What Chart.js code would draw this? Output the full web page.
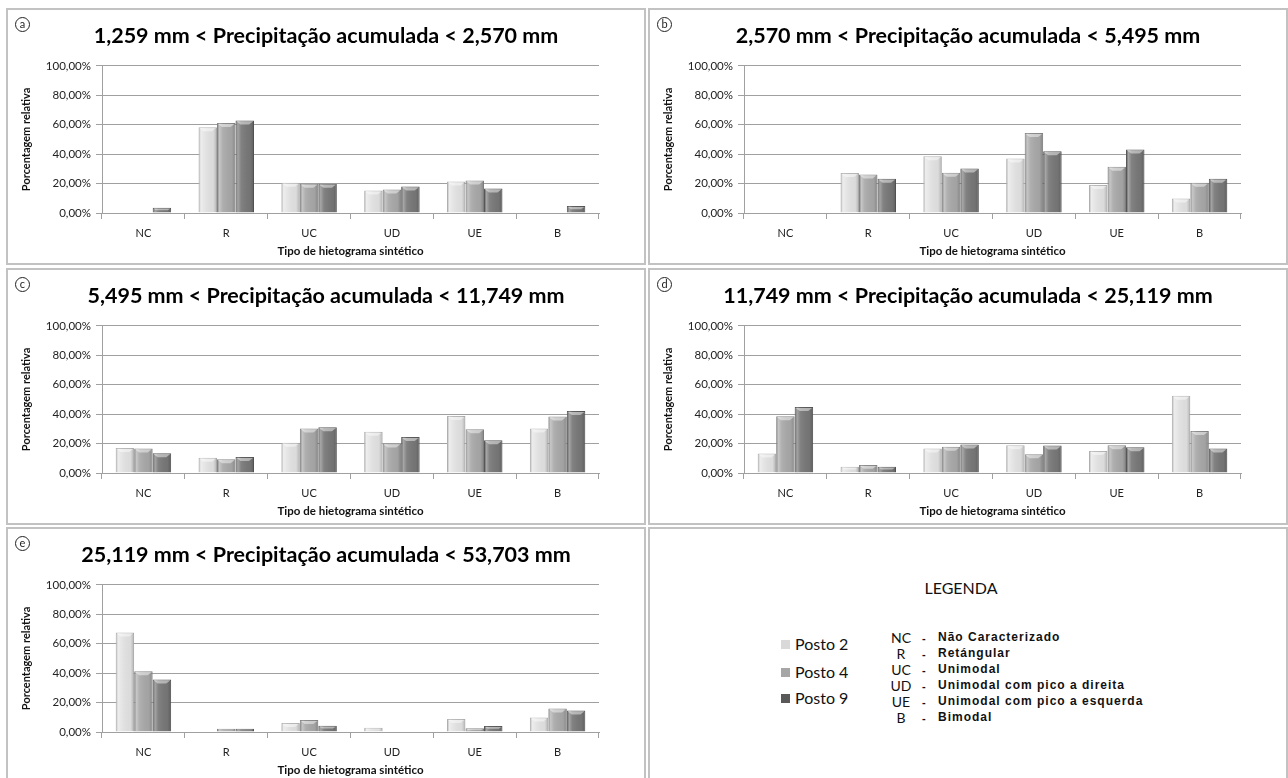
<!DOCTYPE html>
<html>
<head>
<meta charset="utf-8">
<script src="https://cdn.jsdelivr.net/npm/chart.js@4/dist/chart.umd.min.js"></script>
<style>
  body { margin: 0; background: #fff; width: 1288px; height: 778px; overflow: hidden; position: relative; font-family: Lato, sans-serif; }
  .panel { position: absolute; width: 636px; height: 253px; border: 2px solid #c2c2c2; background: #fff; }
  .panel canvas { position: absolute; left: 0; top: 0; }
  .tag { position: absolute; left: 7px; top: 7px; width: 13px; height: 13px; border: 1px solid #222; border-radius: 50%;
         font: 11px Lato, sans-serif; line-height: 12px; text-align: center; color: #222; z-index: 2; }
  .legend-title { position: absolute; left: 0; width: 622px; top: 49px; text-align: center; font: 16px Lato, sans-serif; color: #111; }
  .posto { position: absolute; left: 131px; font: 16px Lato, sans-serif; line-height: 20px; color: #111; }
  .posto i { display: inline-block; width: 9px; height: 9px; margin-right: 5px; vertical-align: 1px; }
  .code { position: absolute; left: 236px; width: 30px; text-align: center; font: 14px "Liberation Sans Narrow", Lato, sans-serif; line-height: 16px; color: #111; }
  .dash { position: absolute; left: 272px; font: bold 11px "Liberation Sans", sans-serif; line-height: 16px; color: #111; }
  .desc { position: absolute; left: 288px; font: bold 12px "Liberation Sans", sans-serif; line-height: 16px; letter-spacing: 1px; color: #111; white-space: nowrap; }
</style>
</head>
<body>
<script>
// categories and labels
const categories = ["NC", "R", "UC", "UD", "UE", "B"];
const seriesNames = ["Posto 2", "Posto 4", "Posto 9"];
const yTicks = [0, 20, 40, 60, 80, 100];
const codeNames = ["Não Caracterizado", "Retángular", "Unimodal", "Unimodal com pico a direita", "Unimodal com pico a esquerda", "Bimodal"];

// (a)
const titleA = "1,259 mm < Precipitação acumulada < 2,570 mm";
const posto2A = [0, 58.2, 20.5, 15.3, 21.4, 0];
const posto4A = [0, 61.2, 19.8, 16.0, 22.1, 0];
const posto9A = [3.5, 62.8, 19.8, 18.0, 16.7, 4.8];

// (b)
const titleB = "2,570 mm < Precipitação acumulada < 5,495 mm";
const posto2B = [0, 27.1, 38.6, 37.0, 19.0, 9.9];
const posto4B = [0, 26.2, 27.3, 54.4, 31.4, 20.5];
const posto9B = [0, 23.3, 30.2, 42.0, 43.1, 23.3];

// (c)
const titleC = "5,495 mm < Precipitação acumulada < 11,749 mm";
const posto2C = [17.0, 10.4, 20.6, 28.1, 38.8, 30.2];
const posto4C = [16.6, 9.3, 30.2, 20.0, 29.7, 38.3];
const posto9C = [13.4, 10.9, 31.1, 24.5, 22.2, 42.2];

// (d)
const titleD = "11,749 mm < Precipitação acumulada < 25,119 mm";
const posto2D = [13.2, 4.3, 16.6, 18.8, 15.0, 52.4];
const posto4D = [38.5, 5.4, 17.9, 12.7, 18.8, 28.6];
const posto9D = [44.9, 4.3, 19.3, 18.6, 17.5, 16.6];

// (e)
const titleE = "25,119 mm < Precipitação acumulada < 53,703 mm";
const posto2E = [67.6, 0.4, 6.1, 2.9, 8.8, 9.9];
const posto4E = [41.3, 2.2, 8.1, 0, 2.5, 16.0];
const posto9E = [35.7, 2.2, 4.3, 0, 4.0, 14.6];

const fills = ["#e4e4e4", "#a9a9a9", "#787878"];
const edges = ["#b9b9b9", "#8a8a8a", "#5a5a5a"];
const swatches = ["#d9d9d9", "#a6a6a6", "#595959"];

// fake excel bevel on top of each bar
const bevel = {
  id: "bevel",
  afterDatasetsDraw(chart) {
    const ctx = chart.ctx;
    ctx.save();
    chart.data.datasets.forEach((ds, i) => {
      chart.getDatasetMeta(i).data.forEach(bar => {
        const { x, y, base, width } = bar.getProps(["x", "y", "base", "width"], true);
        const h = base - y;
        if (h < 0.5) return;
        const l = x - width / 2, r = x + width / 2;
        const g = ctx.createLinearGradient(l, 0, r, 0);
        g.addColorStop(0, "rgba(0,0,0,0.10)");
        g.addColorStop(0.12, "rgba(255,255,255,0.35)");
        g.addColorStop(0.3, "rgba(255,255,255,0.08)");
        g.addColorStop(0.8, "rgba(0,0,0,0.04)");
        g.addColorStop(1, "rgba(0,0,0,0.22)");
        ctx.fillStyle = g;
        ctx.fillRect(l + 0.5, y + 0.5, width - 1, h - 1);
        const cap = Math.min(4, h / 2);
        ctx.fillStyle = "rgba(255,255,255,0.45)";
        ctx.beginPath();
        ctx.moveTo(l + 1, y + 1);
        ctx.lineTo(r - 1, y + 1);
        ctx.lineTo(r - 1 - cap, y + cap);
        ctx.lineTo(l + 1 + cap, y + cap);
        ctx.closePath();
        ctx.fill();
      });
    });
    ctx.restore();
  }
};

function pct(v) {
  return v.toFixed(2).replace(".", ",") + "%";
}

function makePanel(tag, left, top, title, series) {
  const div = document.createElement("div");
  div.className = "panel";
  div.style.left = left + "px";
  div.style.top = top + "px";
  const t = document.createElement("div");
  t.className = "tag";
  t.textContent = tag;
  div.appendChild(t);
  const canvas = document.createElement("canvas");
  canvas.width = 636;
  canvas.height = 253;
  div.appendChild(canvas);
  document.body.appendChild(div);

  new Chart(canvas.getContext("2d"), {
    type: "bar",
    data: {
      labels: categories,
      datasets: series.map((vals, i) => ({
        label: seriesNames[i],
        data: vals,
        backgroundColor: fills[i],
        borderColor: edges[i],
        borderWidth: 1,
        barPercentage: 1,
        categoryPercentage: 0.67
      }))
    },
    options: {
      responsive: false,
      animation: false,
      events: [],
      layout: { padding: 0 },
      plugins: {
        legend: { display: false },
        tooltip: { enabled: false },
        title: {
          display: true,
          text: title,
          color: "#000",
          font: { family: "Lato", size: 21.5, weight: "bold", lineHeight: 1.2 },
          padding: { top: 13, bottom: 17 }
        }
      },
      scales: {
        x: {
          grid: { offset: true, drawOnChartArea: false, tickLength: 6, color: "#a0a0a0" },
          border: { color: "#a0a0a0" },
          ticks: { color: "#222", font: { family: "Lato", size: 11 }, padding: 8 },
          title: {
            display: true,
            text: "Tipo de hietograma sintético",
            color: "#111",
            font: { family: "Lato", size: 11.5, weight: "bold", lineHeight: 1.2 },
            padding: { top: 0, bottom: 5 }
          },
          afterFit(s) { s.height = 50; }
        },
        y: {
          min: 0,
          max: 100,
          afterBuildTicks(s) { s.ticks = yTicks.map(v => ({ value: v })); },
          grid: { tickLength: 6, color: "#a0a0a0", lineWidth: 1 },
          border: { color: "#a0a0a0" },
          ticks: { color: "#222", font: { family: "Lato", size: 11.5 }, padding: 5, callback: v => pct(v) },
          title: {
            display: true,
            text: "Porcentagem relativa",
            color: "#111",
            font: { family: "Lato", size: 11, weight: "bold", lineHeight: 1.2 },
            padding: { top: 12, bottom: 0 }
          },
          afterFit(s) { s.width = 94; }
        },
        // empty space on the right so the title stays centred on the panel
        pad: {
          position: "right",
          min: 0,
          max: 100,
          ticks: { display: false },
          grid: { display: false },
          border: { display: false },
          afterFit(s) { s.width = 45; }
        }
      }
    },
    plugins: [bevel]
  });
}

makePanel("a", 6, 8, titleA, [posto2A, posto4A, posto9A]);
makePanel("b", 648, 8, titleB, [posto2B, posto4B, posto9B]);
makePanel("c", 6, 268, titleC, [posto2C, posto4C, posto9C]);
makePanel("d", 648, 268, titleD, [posto2D, posto4D, posto9D]);
makePanel("e", 6, 527, titleE, [posto2E, posto4E, posto9E]);

// legend panel
const leg = document.createElement("div");
leg.className = "panel";
leg.style.left = "648px";
leg.style.top = "527px";
leg.innerHTML = '<div class="legend-title">LEGENDA</div>';
const postoY = [115, 143, 169];
seriesNames.forEach((name, i) => {
  const p = document.createElement("div");
  p.className = "posto";
  p.style.top = (postoY[i] - 10) + "px";
  p.innerHTML = '<i style="background:' + swatches[i] + '"></i>' + name;
  leg.appendChild(p);
});
categories.forEach((c, i) => {
  const y = 109 + i * 16;
  const code = document.createElement("div");
  code.className = "code";
  code.style.top = (y - 8) + "px";
  code.textContent = c;
  const dash = document.createElement("div");
  dash.className = "dash";
  dash.style.top = (y - 8) + "px";
  dash.textContent = "-";
  const desc = document.createElement("div");
  desc.className = "desc";
  desc.style.top = (y - 9) + "px";
  desc.textContent = codeNames[i];
  leg.appendChild(code);
  leg.appendChild(dash);
  leg.appendChild(desc);
});
document.body.appendChild(leg);
</script>
</body>
</html>
